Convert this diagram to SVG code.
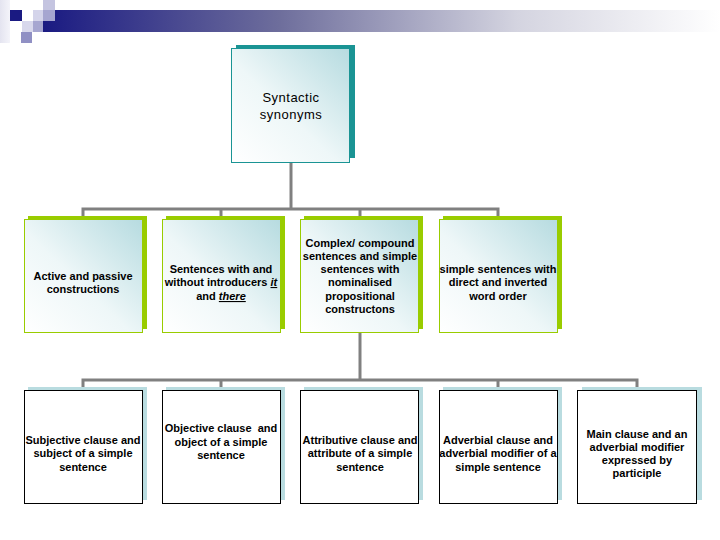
<svg xmlns="http://www.w3.org/2000/svg" width="720" height="540" viewBox="0 0 720 540">
<defs>
<linearGradient id="banner" x1="0" y1="0" x2="1" y2="0">
<stop offset="0" stop-color="#1a1a82"/>
<stop offset="0.35" stop-color="#6e6e9c"/>
<stop offset="0.7" stop-color="#d4d4e0"/>
<stop offset="1" stop-color="#ffffff"/>
</linearGradient>
<linearGradient id="fillg" x1="0" y1="1" x2="1" y2="0">
<stop offset="0" stop-color="#ffffff"/>
<stop offset="0.45" stop-color="#eef7f8"/>
<stop offset="1" stop-color="#b6dbe0"/>
</linearGradient>
<linearGradient id="leftcol" x1="0" y1="0" x2="1" y2="0">
<stop offset="0" stop-color="#e4e4f0"/>
<stop offset="1" stop-color="#f4f4fa"/>
</linearGradient>
</defs>
<style>
.t{font-family:"Liberation Sans",Arial,sans-serif;font-size:11px;font-weight:bold;fill:#000;text-anchor:middle}
.tt{font-family:"Liberation Sans",Arial,sans-serif;font-size:13px;fill:#000;text-anchor:middle;letter-spacing:0.5px}
.u{font-style:italic;text-decoration:underline}
.conn{stroke:#808080;stroke-width:3;fill:none}
.g2{fill:url(#fillg);stroke:#99cc00;stroke-width:1}
.sh2{fill:#99cc00}
.g3{fill:#ffffff;stroke:#000;stroke-width:1}
.sh3{fill:#b9dce0}
</style>

<g id="banner-deco">
<rect x="0" y="0" width="10" height="43" fill="url(#leftcol)"/>
<rect x="43" y="10" width="677" height="22" fill="url(#banner)"/>
<rect x="43" y="0" width="12" height="10" fill="#c4c4e0"/>
<rect x="10" y="10" width="12" height="11" fill="#1a1a82"/>
<rect x="33" y="10" width="10" height="11" fill="#d4d4ea"/>
<rect x="43" y="10" width="12" height="11" fill="#a6a6d0"/>
<rect x="22" y="21" width="11" height="11" fill="#d8d8ec"/>
<rect x="33" y="21" width="10" height="11" fill="#a6a6d0"/>
<rect x="21" y="32" width="11" height="11" fill="#9090c4"/>
</g>

<g id="connectors">
<polyline class="conn" points="291,163 291,209"/>
<polyline class="conn" points="83,217 83,209 498,209 498,217"/>
<polyline class="conn" points="221,209 221,217"/>
<polyline class="conn" points="360,209 360,217"/>
<polyline class="conn" points="360,333 360,380"/>
<polyline class="conn" points="83,388 83,380 637,380 637,388"/>
<polyline class="conn" points="221,380 221,388"/>
<polyline class="conn" points="498,380 498,388"/>
</g>

<g id="root">
<rect x="236" y="45" width="119" height="113" fill="#1a9494"/>
<rect x="231.5" y="48.5" width="118" height="114" fill="url(#fillg)" stroke="#1a9494"/>
<text class="tt" x="291" y="102">Syntactic</text>
<text class="tt" x="291" y="119">synonyms</text>
</g>

<g id="n-active">
<rect class="sh2" x="28" y="216" width="119" height="113"/>
<rect class="g2" x="24.5" y="219.5" width="118" height="113"/>
<text class="t" x="83" y="280">Active and passive</text>
<text class="t" x="83" y="293">constructions</text>
</g>

<g id="n-introducers">
<rect class="sh2" x="166" y="216" width="119" height="113"/>
<rect class="g2" x="162.5" y="219.5" width="118" height="113"/>
<text class="t" x="221" y="273">Sentences with and</text>
<text class="t" x="221" y="286">without introducers <tspan class="u">it</tspan></text>
<text class="t" x="221" y="300">and <tspan class="u">there</tspan></text>
</g>

<g id="n-complex">
<rect class="sh2" x="304" y="216" width="119" height="113"/>
<rect class="g2" x="300.5" y="219.5" width="118" height="113"/>
<text class="t" x="360" y="247">Complex/ compound</text>
<text class="t" x="360" y="260">sentences and simple</text>
<text class="t" x="360" y="273">sentences with</text>
<text class="t" x="360" y="286">nominalised</text>
<text class="t" x="360" y="300">propositional</text>
<text class="t" x="360" y="313">constructons</text>
</g>

<g id="n-order">
<rect class="sh2" x="443" y="216" width="119" height="113"/>
<rect class="g2" x="439.5" y="219.5" width="118" height="113"/>
<text class="t" x="498" y="273">simple sentences with</text>
<text class="t" x="498" y="286">direct and inverted</text>
<text class="t" x="498" y="300">word order</text>
</g>

<g id="n-subjective">
<rect class="sh3" x="28" y="387" width="119" height="113"/>
<rect class="g3" x="24.5" y="390.5" width="118" height="113"/>
<text class="t" x="83" y="444">Subjective clause and</text>
<text class="t" x="83" y="457">subject of a simple</text>
<text class="t" x="83" y="471">sentence</text>
</g>

<g id="n-objective">
<rect class="sh3" x="166" y="387" width="119" height="113"/>
<rect class="g3" x="162.5" y="390.5" width="118" height="113"/>
<text class="t" x="221" y="432" xml:space="preserve">Objective clause  and</text>
<text class="t" x="221" y="446">object of a simple</text>
<text class="t" x="221" y="459">sentence</text>
</g>

<g id="n-attributive">
<rect class="sh3" x="304" y="387" width="119" height="113"/>
<rect class="g3" x="300.5" y="390.5" width="118" height="113"/>
<text class="t" x="360" y="444">Attributive clause and</text>
<text class="t" x="360" y="457">attribute of a simple</text>
<text class="t" x="360" y="471">sentence</text>
</g>

<g id="n-adverbial">
<rect class="sh3" x="443" y="387" width="119" height="113"/>
<rect class="g3" x="439.5" y="390.5" width="118" height="113"/>
<text class="t" x="498" y="444">Adverbial clause and</text>
<text class="t" x="498" y="457">adverbial modifier of a</text>
<text class="t" x="498" y="471">simple sentence</text>
</g>

<g id="n-main">
<rect class="sh3" x="582" y="387" width="120" height="113"/>
<rect class="g3" x="577.5" y="390.5" width="119" height="113"/>
<text class="t" x="637" y="438">Main clause and an</text>
<text class="t" x="637" y="451">adverbial modifier</text>
<text class="t" x="637" y="464">expressed by</text>
<text class="t" x="637" y="477">participle</text>
</g>
</svg>
